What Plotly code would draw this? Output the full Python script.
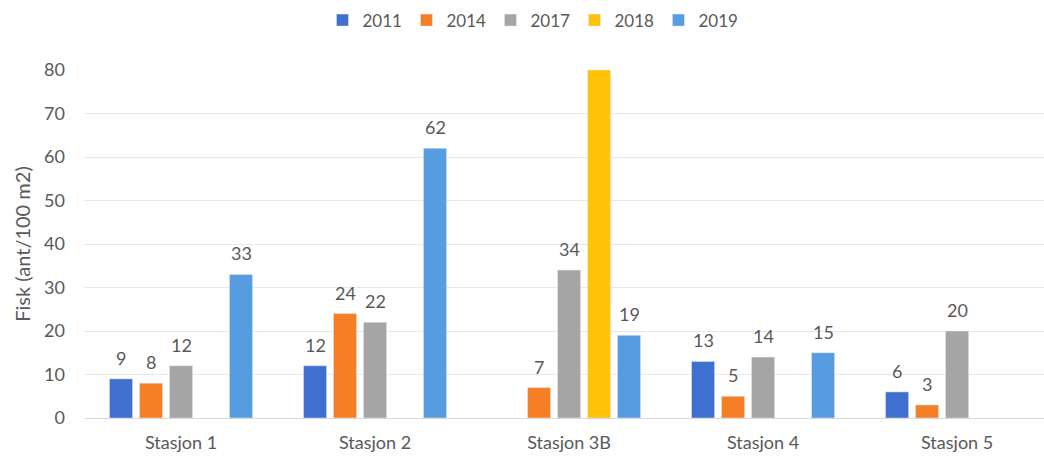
import plotly.graph_objects as go

stations = ["Stasjon 1", "Stasjon 2", "Stasjon 3B", "Stasjon 4", "Stasjon 5"]
years = ["2011", "2014", "2017", "2018", "2019"]
v2011 = [9, 12, None, 13, 6]
v2014 = [8, 24, 7, 5, 3]
v2017 = [12, 22, 34, 14, 20]
v2018 = [None, None, 80, None, None]
v2019 = [33, 62, 19, 15, None]
series = [v2011, v2014, v2017, v2018, v2019]
colors = ["#3F6FCF", "#F57F27", "#A5A5A5", "#FFC30A", "#579BE0"]

FONT = "Lato, 'Open Sans', sans-serif"
TEXT_COLOR = "#595959"

W, H = 1044, 457
ML, MR, MT, MB = 84, 0, 70, 39
X_RANGE = [-0.5, 4.448]
Y_MAX = 80
BARGAP = 0.227

fig = go.Figure()
for name, vals, col in zip(years, series, colors):
    fig.add_trace(go.Bar(name=name, x=stations, y=vals, marker_color=col))

# value labels above each bar, offset to the centre of its slot in the group
cat_px = (W - ML - MR) / (X_RANGE[1] - X_RANGE[0])
slot_px = cat_px * (1 - BARGAP) / len(series)
for i, vals in enumerate(series):
    for st, v in zip(stations, vals):
        if v is None or v >= Y_MAX:
            continue
        fig.add_annotation(x=st, y=v, text=str(v), showarrow=False,
                           xshift=(i - (len(series) - 1) / 2) * slot_px,
                           yanchor="middle", yshift=21,
                           font=dict(size=18, color=TEXT_COLOR, family=FONT))

fig.update_layout(
    width=W, height=H,
    margin=dict(l=ML, r=MR, t=MT, b=MB, autoexpand=False),
    barmode="group", bargap=BARGAP, bargroupgap=0.23,
    plot_bgcolor="white", paper_bgcolor="white",
    font=dict(family=FONT, size=17, color=TEXT_COLOR),
    legend=dict(orientation="h", xref="container", yref="container",
                x=0.51, xanchor="center", y=0.955, yanchor="middle",
                font=dict(size=17, color=TEXT_COLOR), itemwidth=30,
                entrywidth=39, traceorder="normal"),
)
fig.update_xaxes(range=X_RANGE, showgrid=False, showline=False,
                 ticks="", ticklabelstandoff=12,
                 tickfont=dict(size=18, color=TEXT_COLOR))
fig.update_yaxes(range=[0, Y_MAX], dtick=10, showgrid=True, gridcolor="#E8E8E8",
                 zeroline=True, zerolinecolor="#D9D9D9", zerolinewidth=1,
                 ticks="", ticklabelstandoff=18,
                 tickfont=dict(size=18, color=TEXT_COLOR),
                 title=dict(text="Fisk (ant/100 m2)", standoff=8,
                            font=dict(size=20, color=TEXT_COLOR)))

fig.write_html("out.html")
